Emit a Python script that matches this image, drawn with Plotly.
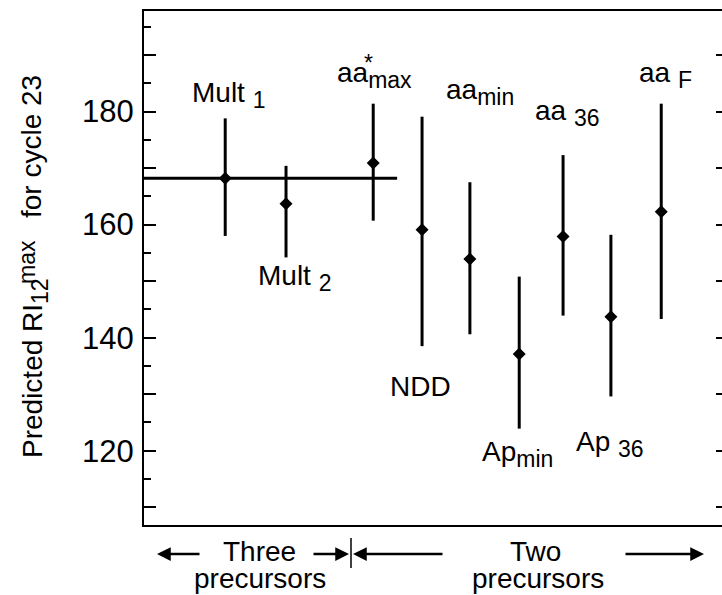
import plotly.graph_objects as go

# ---- data ----
labels = ["Mult 1", "Mult 2", "aa*max", "NDD", "aa min", "Ap min", "aa 36", "Ap 36", "aa F"]
x_pos = [1.63, 2.85, 4.60, 5.58, 6.54, 7.53, 8.41, 9.37, 10.38]
predicted = [168.2, 163.7, 170.9, 159.1, 153.9, 137.1, 157.9, 143.7, 162.3]
upper = [178.8, 170.4, 181.4, 179.1, 167.5, 150.8, 172.3, 158.2, 181.4]
lower = [158.0, 154.2, 160.7, 138.5, 140.6, 123.9, 143.9, 129.6, 143.3]
ref_level = 168.2
ref_x = [0.0, 5.08]
y_tickvals = [110, 120, 130, 140, 150, 160, 170, 180, 190]
y_ticktext = ["", "120", "", "140", "", "160", "", "180", ""]

FONT = "Liberation Sans, Arial, Helvetica, sans-serif"
FS = 28
TICKFS = 31
SUBFS = 23

err_plus = [u - p for u, p in zip(upper, predicted)]
err_minus = [p - l for p, l in zip(predicted, lower)]

fig = go.Figure()
fig.add_trace(go.Scatter(
    x=ref_x, y=[ref_level, ref_level], mode="lines",
    line=dict(color="black", width=3), showlegend=False, hoverinfo="skip"))
fig.add_trace(go.Scatter(
    x=x_pos, y=predicted, mode="markers",
    marker=dict(symbol="diamond", size=10, color="black"),
    error_y=dict(type="data", symmetric=False, array=err_plus, arrayminus=err_minus,
                 thickness=3, width=0, color="black"),
    showlegend=False))
# invisible trace to activate right-side tick axis
fig.add_trace(go.Scatter(x=[None], y=[None], yaxis="y2", showlegend=False))

W, H = 722, 595
L, R, T, B = 144, 0, 11, 70
pw, ph = W - L - R, H - T - B

def px(xp):
    return (xp - L) / pw

def py(yp):
    return (H - B - yp) / ph

def sub(t):
    return f"<sub><span style='font-size:{SUBFS}px'>{t}</span></sub>"

label_text = [
    "Mult " + sub("1"), "Mult " + sub("2"), "aa" + sub("max"), "NDD",
    "aa" + sub("min"), "Ap" + sub("min"), "aa " + sub("36"), "Ap " + sub("36"), "aa " + sub("F"),
]
label_xy = [(1.69, 183.0), (3.03, 150.5), (4.62, 186.5), (5.54, 131.3), (6.74, 183.5),
            (7.50, 119.5), (8.50, 179.8), (9.35, 121.2), (10.46, 186.5)]

annotations = []
for t, (lx, ly) in zip(label_text, label_xy):
    annotations.append(dict(x=lx, y=ly, xref="x", yref="y", text=t, showarrow=False,
                            font=dict(family=FONT, size=FS, color="black"),
                            xanchor="center", yanchor="middle"))
# star over "max"
annotations.append(dict(x=4.5, y=188.6, xref="x", yref="y", text="*", showarrow=False,
                        font=dict(family=FONT, size=SUBFS, color="black"),
                        xanchor="center", yanchor="middle"))

# y-axis title pieces
for txt, xc, yc, fs in [("Predicted RI" + sub("12"), 35, 368, FS),
                        ("max", 27, 262, SUBFS),
                        ("for cycle 23", 32, 147, FS)]:
    annotations.append(dict(x=px(xc), y=py(yc), xref="paper", yref="paper", text=txt,
                            textangle=-90, showarrow=False, xanchor="center", yanchor="middle",
                            font=dict(family=FONT, size=fs, color="black")))

# bottom group labels
for txt, xc, yc in [("Three", 259, 551), ("precursors", 260, 578),
                    ("Two", 535, 551), ("precursors", 538, 578)]:
    annotations.append(dict(x=px(xc), y=py(yc), xref="paper", yref="paper", text=txt,
                            showarrow=False, xanchor="center", yanchor="middle",
                            font=dict(family=FONT, size=FS, color="black")))

# arrows (tip, tail) in pixels
for tip, tail in [(157, 201), (349, 312), (353, 444), (704, 624)]:
    annotations.append(dict(x=px(tip), y=py(554), xref="paper", yref="paper", text="",
                            showarrow=True, ax=tail - tip, ay=0, axref="pixel", ayref="pixel",
                            xanchor="center", yanchor="middle",
                            arrowhead=2, arrowsize=1.1, arrowwidth=2.5, arrowcolor="black",
                            standoff=0, startstandoff=0))

shapes = [dict(type="line", xref="paper", yref="paper", x0=px(351), x1=px(351),
               y0=py(538), y1=py(568), line=dict(color="black", width=1.5))]

fig.update_layout(
    width=W, height=H,
    margin=dict(l=L, r=R, t=T, b=B, pad=0),
    paper_bgcolor="white", plot_bgcolor="white",
    font=dict(family=FONT, size=FS, color="black"),
    xaxis=dict(range=[0, pw / 49.83], showgrid=False, zeroline=False, showticklabels=False,
               ticks="", showline=True, linecolor="black", linewidth=2, mirror=True),
    yaxis=dict(range=[106.85, 197.8], showgrid=False, zeroline=False,
               tickmode="array", tickvals=y_tickvals, ticktext=y_ticktext,
               ticks="inside", ticklen=12, tickwidth=1.5, tickcolor="black",
               minor=dict(tickmode="linear", tick0=0, dtick=5, ticks="inside", ticklen=7,
                          tickwidth=1.5, tickcolor="black"),
               showline=True, linecolor="black", linewidth=2,
               tickfont=dict(family=FONT, size=TICKFS, color="black"), ticklabelstandoff=2),
    yaxis2=dict(overlaying="y", side="right", matches="y", showgrid=False, zeroline=False,
                tickmode="linear", tick0=0, dtick=10, ticks="inside", ticklen=6,
                tickwidth=1.5, tickcolor="black", showticklabels=False, showline=False),
    annotations=annotations, shapes=shapes,
)

fig.write_html("out.html")
